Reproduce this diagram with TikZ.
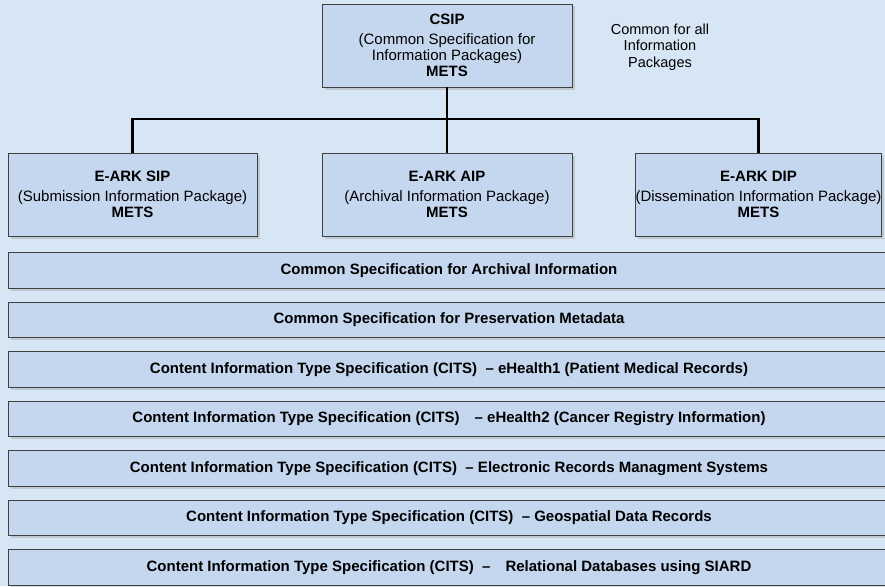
\documentclass[tikz,border=0pt]{standalone}
\usepackage{fontspec}
\setmainfont{Liberation Sans}
\usetikzlibrary{shadows}
\definecolor{bgblue}{RGB}{214,230,245}
\definecolor{boxblue}{RGB}{197,215,238}
\definecolor{boxline}{RGB}{64,64,64}
\begin{document}
\begin{tikzpicture}[x=1pt, y=-1pt,
  pkg/.style={rectangle, draw=boxline, fill=boxblue, line width=0.8pt, minimum height=83pt, inner sep=0pt, align=center, font=\fontsize{15}{16}\selectfont, drop shadow={shadow xshift=2.5pt, shadow yshift=-2.5pt, fill=gray!70, opacity=.45}},
  layer/.style={pkg, minimum width=882pt, minimum height=35.5pt, font=\fontsize{15}{16}\selectfont\bfseries},
  note/.style={align=center, inner sep=0pt, font=\fontsize{14.5}{16.5}\selectfont},
  link/.style={line width=2.4pt, black}]
\fill[bgblue] (0,0) rectangle (885,586);
\useasboundingbox (0,0) rectangle (885,586);
\node[pkg, minimum width=250pt] (csip) at (447,45.5){\textbf{CSIP}\\[4pt](Common Specification for\\Information Packages)\\\textbf{METS}};
\node[note] (common) at (660,47){Common for all\\Information\\Packages};
\node[pkg, minimum width=249pt] (sip) at (132.5,194.5){\textbf{E-ARK SIP}\\[4pt](Submission Information Package)\\\textbf{METS}};
\node[pkg, minimum width=250pt] (aip) at (447,194.5){\textbf{E-ARK AIP}\\[4pt](Archival Information Package)\\\textbf{METS}};
\node[pkg, minimum width=243pt] (dip) at (758.5,194.5){\textbf{E-ARK DIP}\\[4pt](Dissemination Information Package)\\\textbf{METS}};
\coordinate (bus) at (447,119);
\draw[link] (csip.south) -- (aip.north);
\draw[link] (sip.north) |- (bus) -| (dip.north);

\node[layer] (archival) at (449,270.5){Common Specification for Archival Information};
\node[layer] (preservation) at (449,320){Common Specification for Preservation Metadata};
\node[layer] (ehealth1) at (449,369.5){Content Information Type Specification (CITS)\ \ – eHealth1 (Patient Medical Records)};
\node[layer] (ehealth2) at (449,419){Content Information Type Specification (CITS)\quad – eHealth2 (Cancer Registry Information)};
\node[layer] (erms) at (449,468.5){Content Information Type Specification (CITS)\ \ – Electronic Records Managment Systems};
\node[layer] (geo) at (449,518){Content Information Type Specification (CITS)\ \ – Geospatial Data Records};
\node[layer] (siard) at (449,567.5){Content Information Type Specification (CITS)\ \ –\quad Relational Databases using SIARD};

\end{tikzpicture}
\end{document}
